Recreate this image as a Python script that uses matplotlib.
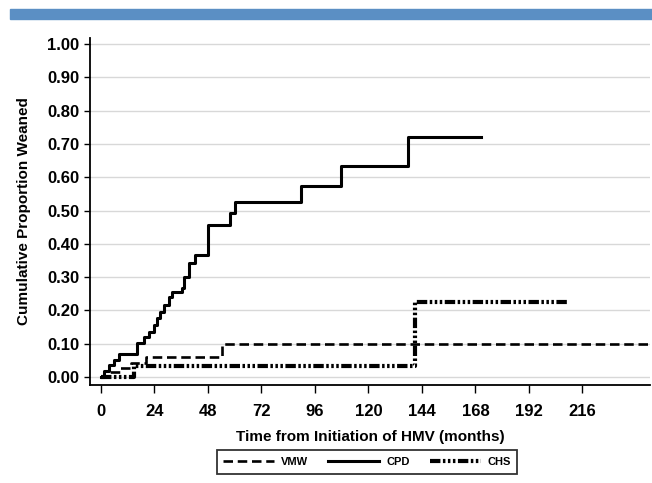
import matplotlib
matplotlib.use("Agg")
import matplotlib.pyplot as plt
from matplotlib.lines import Line2D
from matplotlib.patches import Rectangle

plt.rcParams['font.family'] = ['Liberation Sans', 'DejaVu Sans']

# Kaplan-Meier style cumulative weaning curves (months, proportion)
cpd_months = [0, 1.6, 3.7, 5.7, 8.2, 16.2, 19.2, 21.4, 23.7, 25.2, 26.7, 28.2, 30.4, 31.9,
              36.4, 37.1, 39.4, 42.4, 48.1, 58.0, 60.3, 89.9, 107.8, 137.9, 170.3]
cpd_values = [0, 0.017, 0.035, 0.052, 0.069, 0.101, 0.121, 0.136, 0.156, 0.176, 0.196, 0.216, 0.241, 0.256,
              0.266, 0.301, 0.341, 0.366, 0.456, 0.492, 0.526, 0.574, 0.635, 0.722, 0.722]

vmw_months = [0, 3.2, 8.7, 13.3, 20.0, 54.3, 247]
vmw_values = [0, 0.014, 0.027, 0.041, 0.061, 0.098, 0.098]

chs_months = [0, 14.8, 140.9, 209.6]
chs_values = [0, 0.034, 0.226, 0.226]

x_ticks = [0, 24, 48, 72, 96, 120, 144, 168, 192, 216]
y_ticks = [0.0, 0.1, 0.2, 0.3, 0.4, 0.5, 0.6, 0.7, 0.8, 0.9, 1.0]

fig = plt.figure(figsize=(6.52, 4.83), dpi=100)
ax = fig.add_axes([90 / 652, 98 / 483, 560 / 652, 347 / 483])

# blue banner on top
fig.patches.append(Rectangle((10 / 652, 1 - 18.5 / 483), 642 / 652, 9.5 / 483,
                             transform=fig.transFigure, color='#5b8fc4', zorder=0))

ax.set_axisbelow(True)
ax.yaxis.grid(True, color='#d8d8d8', linewidth=1.0)

vmw_style = dict(color='black', linewidth=1.9, linestyle=(0, (3.6, 1.8)))
cpd_style = dict(color='black', linewidth=2.2, linestyle='-')
chs_style = dict(color='black', linewidth=3.0, linestyle=(0, (2.5, 0.6, 0.6, 0.6, 0.6, 0.6, 0.6, 0.6)))

ax.step(vmw_months, vmw_values, where='post', **vmw_style)
ax.step(cpd_months, cpd_values, where='post', **cpd_style)
ax.step(chs_months, chs_values, where='post', **chs_style)

ax.set_xlim(-4.9, 246.3)
ax.set_ylim(-0.024, 1.018)
ax.set_xticks(x_ticks)
ax.set_yticks(y_ticks)
ax.set_yticklabels(['%.2f' % v for v in y_ticks])
ax.tick_params(axis='both', direction='out', width=1.0, labelsize=12)
ax.tick_params(axis='x', length=5.5, pad=8)
ax.tick_params(axis='y', length=4.5, pad=3)
for lbl in ax.get_xticklabels() + ax.get_yticklabels():
    lbl.set_fontweight('bold')

for side in ['top', 'right']:
    ax.spines[side].set_visible(False)
for side in ['left', 'bottom']:
    ax.spines[side].set_linewidth(1.3)

ax.set_xlabel('Time from Initiation of HMV (months)', fontsize=11, fontweight='bold', labelpad=8)
ax.set_ylabel('Cumulative Proportion Weaned', fontsize=11, fontweight='bold', labelpad=12)

handles = [Line2D([], [], **vmw_style), Line2D([], [], **cpd_style), Line2D([], [], **chs_style)]
leg = fig.legend(handles, ['VMW', 'CPD', 'CHS'], loc='center', ncol=3,
                 bbox_to_anchor=(367 / 652, 1 - 462 / 483),
                 prop={'size': 8, 'weight': 'bold'},
                 frameon=True, fancybox=False, edgecolor='black', handlelength=4.6,
                 columnspacing=1.8, handletextpad=0.6, borderpad=0.6, borderaxespad=0)
leg.get_frame().set_linewidth(1.3)

fig.savefig('out.png', dpi=100)
